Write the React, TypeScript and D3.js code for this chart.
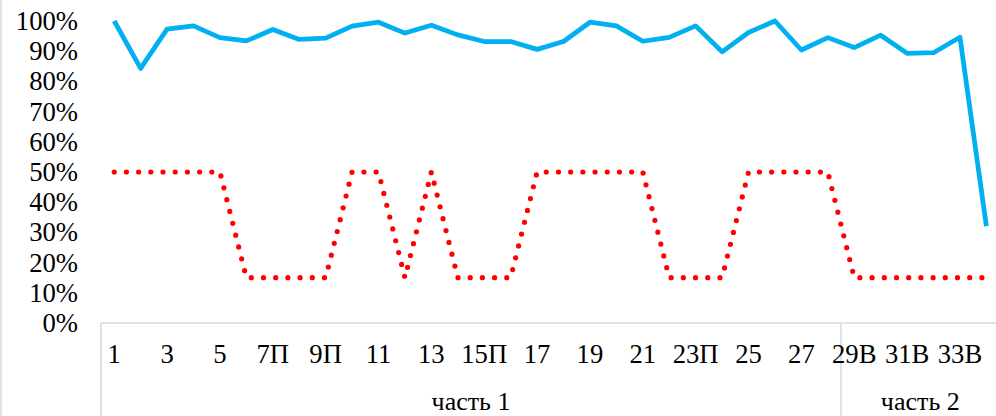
import React from "react";
import * as d3 from "d3";

const categories = ["1","2","3","4","5","6П","7П","8П","9П","10","11","12П","13","14П","15П","16П","17","18","19","20","21","22П","23П","24П","25","26","27","28","29В","30В","31В","32В","33В","34В"];
const actual = [100, 84.3, 97.3, 98.4, 94.5, 93.4, 97.2, 93.9, 94.3, 98.3, 99.6, 96, 98.6, 95.4, 93.2, 93.2, 90.6, 93.2, 99.6, 98.4, 93.3, 94.6, 98.4, 89.8, 96.2, 100, 90.4, 94.5, 91.2, 95.3, 89.3, 89.5, 94.6, 32.1];
const threshold = [50,50,50,50,50,15,15,15,15,50,50,15,50,15,15,15,50,50,50,50,50,15,15,15,50,50,50,50,15,15,15,15,15,15];
const parts = ["часть 1", "часть 2"];
const partSizes = [28, 6];
const yTicks = [0,10,20,30,40,50,60,70,80,90,100];

const W = 996, H = 416;
const FONT = "'Liberation Serif', 'Times New Roman', serif";

export default function App() {
  const x = d3.scaleBand<string>().domain(categories).range([101, 999.6]).padding(0);
  const y = d3.scaleLinear().domain([0, 100]).range([323, 21]);
  const cx = (c: string) => (x(c) as number) + x.bandwidth() / 2;
  const line = d3.line<number>().x((_, i) => cx(categories[i])).y(d => y(d));

  let start = 0;
  const groups = parts.map((p, gi) => {
    const s = start;
    start += partSizes[gi];
    const x0 = x(categories[s]) as number;
    const x1 = s + partSizes[gi] < categories.length ? (x(categories[s + partSizes[gi]]) as number) : 999.6;
    return { name: p, x0, x1 };
  });

  const grid = "#d9d9d9";
  return (
    <svg width={W} height={H} style={{ position: "absolute", left: 0, top: 0, background: "#fff" }}>
      <line x1={1} x2={1} y1={0} y2={H} stroke={grid} strokeWidth={1.5} />
      <line x1={101} x2={W} y1={y(0)} y2={y(0)} stroke={grid} strokeWidth={1.5} />
      {groups.map((g, i) => (
        <line key={"v" + i} x1={g.x0} x2={g.x0} y1={y(0)} y2={H} stroke={grid} strokeWidth={1.5} />
      ))}
      {yTicks.map(t => (
        <text key={t} x={78} y={y(t) + 9} textAnchor="end" fontFamily={FONT} fontSize={26.67} fill="#000">{t}%</text>
      ))}
      {categories.map((c, i) => i % 2 === 0 ? (
        <text key={c} x={cx(c)} y={363} textAnchor="middle" fontFamily={FONT} fontSize={26.67} fill="#000">{c}</text>
      ) : null)}
      {groups.map((g, i) => (
        <text key={"p" + i} x={(g.x0 + Math.min(g.x1, 999.6)) / 2} y={410} textAnchor="middle" fontFamily={FONT} fontSize={26} fill="#000">{g.name}</text>
      ))}
      <path d={line(threshold) || ""} fill="none" stroke="#ff0000" strokeWidth={5.2} strokeDasharray="0 12.2" strokeLinecap="round" strokeLinejoin="round" />
      <path d={line(actual) || ""} fill="none" stroke="#00b0f0" strokeWidth={4.75} strokeLinejoin="round" />
    </svg>
  );
}
